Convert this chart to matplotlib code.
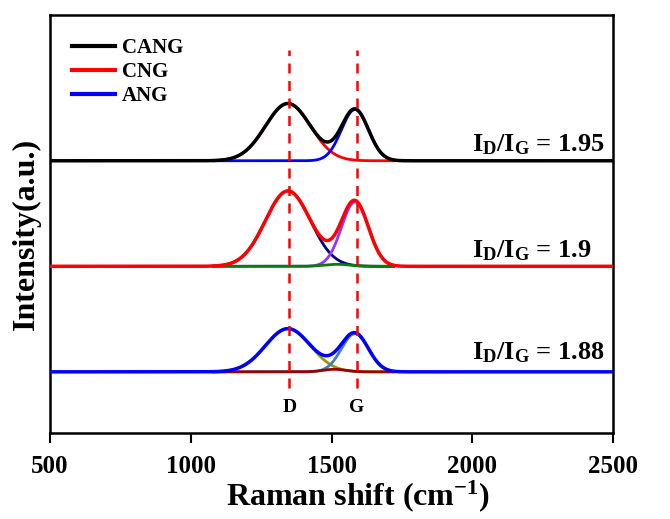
import numpy as np
import matplotlib.pyplot as plt

plt.rcParams['font.family'] = 'Liberation Serif'
plt.rcParams['font.weight'] = 'bold'
plt.rcParams['mathtext.fontset'] = 'custom'
plt.rcParams['mathtext.rm'] = 'Liberation Serif:bold'
plt.rcParams['mathtext.bf'] = 'Liberation Serif:bold'
plt.rcParams['mathtext.it'] = 'Liberation Serif:bold'

# ____samples (top to bottom)
samples = ["CANG", "CNG", "ANG"]
total_colors = ["black", "red", "blue"]
offsets = [2.10, 1.05, 0.0]
ratios = ["1.95", "1.9", "1.88"]
ratio_dy = [0.09, 0.09, 0.12]

# ____fitted peaks: centre [cm-1], sigma [cm-1], height [a.u.]
peak_centres = [[1345, 1583], [1345, 1583, 1520], [1345, 1583, 1510]]
peak_sigmas = [[80, 48], [80, 48, 45], [80, 48, 40]]
peak_heights = [[0.57, 0.51], [0.75, 0.64, 0.02], [0.43, 0.38, 0.025]]
peak_colors = [["red", "blue"], ["#000080", "#9933ff", "#008000"], ["#999900", "#3d7fc4", "#990000"]]

d_pos = 1350
g_pos = 1590

x_full = np.linspace(500, 2500, 2001)
x_comp = np.linspace(1080, 1720, 641)


def gauss(x, c, s, h):
    return h * np.exp(-0.5 * ((x - c) / s) ** 2)


fig = plt.figure(figsize=(6.7, 5.19), dpi=100)
ax = fig.add_axes([0.0746, 0.166, 0.8406, 0.805])

handles = []
for i in range(len(samples)):
    total = np.zeros_like(x_full)
    for j in range(len(peak_centres[i])):
        total += gauss(x_full, peak_centres[i][j], peak_sigmas[i][j], peak_heights[i][j])
        comp = gauss(x_comp, peak_centres[i][j], peak_sigmas[i][j], peak_heights[i][j])
        ax.plot(x_comp, comp + offsets[i], color=peak_colors[i][j], lw=2, zorder=2)
    h, = ax.plot(x_full, total + offsets[i], color=total_colors[i], lw=2.5, zorder=3, label=samples[i])
    handles.append(h)
    ax.text(2000, offsets[i] + ratio_dy[i], r"$\mathbf{I_D/I_G}$ = " + ratios[i],
            fontsize=19, fontweight='bold', ha='left', va='baseline', zorder=5)

for xp in [d_pos, g_pos]:
    ax.plot([xp, xp], [-0.16, 3.2], color='red', lw=1.8, linestyle=(0, (4, 3)), zorder=4)
ax.text(d_pos, -0.35, "D", fontsize=14, fontweight='bold', ha='center', va='center')
ax.text(g_pos, -0.35, "G", fontsize=14, fontweight='bold', ha='center', va='center')

ax.set_xlim(500, 2500)
ax.set_ylim(-0.607, 3.55)
ax.set_xticks([500, 1000, 1500, 2000, 2500])
ax.set_yticks([])
ax.tick_params(axis='x', direction='out', length=7, width=1.5, labelsize=18, pad=9)
for sp in ax.spines.values():
    sp.set_linewidth(1.8)
for lab in ax.get_xticklabels():
    lab.set_fontweight('bold')

ax.set_xlabel(r"Raman shift (cm$^{\mathregular{-1}}$)", fontsize=23, fontweight='bold')
ax.xaxis.set_label_coords(0.546, -0.108)
ax.set_ylabel("Intensity(a.u.)", fontsize=23, fontweight='bold')
ax.yaxis.set_label_coords(-0.016, 0.475)

ax.legend(handles=handles, loc='upper left', bbox_to_anchor=(0.005, 0.99), frameon=False,
          handlelength=2.1, handletextpad=0.3, labelspacing=0.2,
          prop={'weight': 'bold', 'size': 15})
for lh in ax.get_legend().get_lines():
    lh.set_linewidth(3)

fig.savefig("out.png", dpi=100)
